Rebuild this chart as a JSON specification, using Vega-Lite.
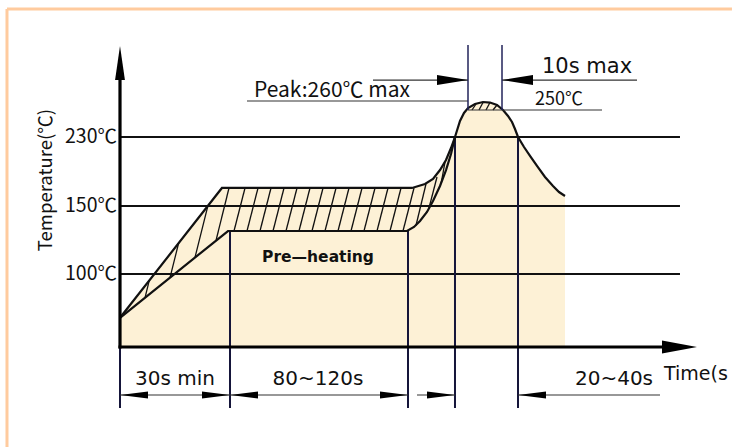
{
  "$schema": "https://vega.github.io/schema/vega-lite/v6.json",
  "width": 732,
  "height": 447,
  "padding": 0,
  "autosize": "none",
  "background": "white",
  "config": {"view": {"stroke": null}},
  "datasets": {
    "border": [
      {"t": -37.67, "T": 362.2, "t2": 312, "T2": 362.2},
      {"t": -37.67, "T": 362.2, "t2": -37.67, "T2": -137}
    ],
    "env": [
      {"t": 0, "T": 40}, {"t": 27.8, "T": 170.9}, {"t": 132.25, "T": 170.9},
      {"t": 139.55, "T": 175.5}, {"t": 144.04, "T": 181.3}, {"t": 147.98, "T": 191.7},
      {"t": 151.35, "T": 203.3}, {"t": 154.16, "T": 217.2}, {"t": 156.4, "T": 230},
      {"t": 159.21, "T": 241.9}, {"t": 161.46, "T": 247.8}, {"t": 163.71, "T": 252.2},
      {"t": 167.64, "T": 256.7}, {"t": 172.13, "T": 258.9}, {"t": 176.07, "T": 258.3},
      {"t": 180.0, "T": 255.6}, {"t": 183.37, "T": 250}, {"t": 186.18, "T": 245.6},
      {"t": 188.43, "T": 241.1}, {"t": 190.11, "T": 235.9}, {"t": 191.8, "T": 230},
      {"t": 195.17, "T": 218.4}, {"t": 198.54, "T": 208.0}, {"t": 202.47, "T": 196.4},
      {"t": 206.97, "T": 183.6}, {"t": 211.46, "T": 173.2}, {"t": 214.83, "T": 166.2},
      {"t": 218.2, "T": 161.6}
    ],
    "low": [
      {"t": 0, "T": 40}, {"t": 29.45, "T": 131.6}, {"t": 129.44, "T": 131.6},
      {"t": 133.37, "T": 134.6}, {"t": 136.74, "T": 139.0}, {"t": 140.67, "T": 145.6},
      {"t": 144.04, "T": 155.8}, {"t": 147.98, "T": 173.2}, {"t": 151.35, "T": 191.7},
      {"t": 154.16, "T": 210.3}, {"t": 156.4, "T": 230}
    ],
    "grid": [
      {"t": 0, "T": 100, "t2": 282.8, "T2": 100},
      {"t": 0, "T": 150, "t2": 282.8, "T2": 150},
      {"t": 0, "T": 230, "t2": 282.8, "T2": 230}
    ],
    "vert": [
      {"t": 0, "T": 0, "t2": 0, "T2": -83.6},
      {"t": 30, "T": 131.6, "t2": 30, "T2": -83.6},
      {"t": 130, "T": 131.6, "t2": 130, "T2": -83.6},
      {"t": 156.4, "T": 230, "t2": 156.4, "T2": -83.6},
      {"t": 191.8, "T": 230, "t2": 191.8, "T2": -83.6}
    ],
    "hatch": [
      {"t": 6.82, "T": 67.26, "t2": 7.96, "T2": 90.82},
      {"t": 13.64, "T": 94.93, "t2": 15.98, "T2": 122.65},
      {"t": 20.45, "T": 112.13, "t2": 23.97, "T2": 150.23},
      {"t": 26.18, "T": 124.56, "t2": 29.73, "T2": 170.87},
      {"t": 32.25, "T": 131.6, "t2": 38.43, "T2": 170.9},
      {"t": 39.55, "T": 131.6, "t2": 45.73, "T2": 170.9},
      {"t": 46.85, "T": 131.6, "t2": 53.03, "T2": 170.9},
      {"t": 54.16, "T": 131.6, "t2": 60.34, "T2": 170.9},
      {"t": 61.46, "T": 131.6, "t2": 67.64, "T2": 170.9},
      {"t": 68.76, "T": 131.6, "t2": 74.94, "T2": 170.9},
      {"t": 76.07, "T": 131.6, "t2": 82.25, "T2": 170.9},
      {"t": 83.37, "T": 131.6, "t2": 89.55, "T2": 170.9},
      {"t": 90.67, "T": 131.6, "t2": 96.85, "T2": 170.9},
      {"t": 97.98, "T": 131.6, "t2": 104.16, "T2": 170.9},
      {"t": 105.28, "T": 131.6, "t2": 111.46, "T2": 170.9},
      {"t": 112.58, "T": 131.6, "t2": 118.76, "T2": 170.9},
      {"t": 119.89, "T": 131.6, "t2": 126.07, "T2": 170.9},
      {"t": 127.19, "T": 131.6, "t2": 133.37, "T2": 170.9},
      {"t": 134.49, "T": 135.66, "t2": 140.11, "T2": 175.5},
      {"t": 141.8, "T": 148.53, "t2": 146.29, "T2": 183.62},
      {"t": 148.54, "T": 175.5, "t2": 150.79, "T2": 201.0},
      {"t": 165.96, "T": 250, "t2": 168.2, "T2": 256.67},
      {"t": 169.89, "T": 250, "t2": 172.13, "T2": 258.33},
      {"t": 173.82, "T": 250, "t2": 176.07, "T2": 258.33},
      {"t": 177.75, "T": 250, "t2": 180.0, "T2": 255.56}
    ],
    "thin": [
      {"t": 39.55, "T": 260, "t2": 163.71, "T2": 260},
      {"t": 163.71, "T": 250, "t2": 239.0, "T2": 250},
      {"t": 110.34, "T": 283.3, "t2": 163.71, "T2": 283.3},
      {"t": 182.81, "T": 283.3, "t2": 258.65, "T2": 283.3},
      {"t": 0, "T": -65.75, "t2": 30, "T2": -65.75},
      {"t": 30, "T": -65.75, "t2": 130, "T2": -65.75},
      {"t": 135.06, "T": -65.75, "t2": 156.4, "T2": -65.75},
      {"t": 191.8, "T": -65.75, "t2": 271.57, "T2": -65.75}
    ],
    "topv": [
      {"t": 163.71, "T": 322.2, "t2": 163.71, "T2": 250},
      {"t": 182.81, "T": 322.2, "t2": 182.81, "T2": 250}
    ],
    "axes": [
      {"t": 0, "T": -2, "t2": 0, "T2": 294.4},
      {"t": -0.5, "T": 0, "t2": 277.19, "T2": 0}
    ],
    "arrS": [
      {"t": 0, "T": -65.75, "dir": "left"},
      {"t": 30, "T": -65.75, "dir": "right"},
      {"t": 30, "T": -65.75, "dir": "left"},
      {"t": 130, "T": -65.75, "dir": "right"},
      {"t": 156.4, "T": -65.75, "dir": "right"},
      {"t": 191.8, "T": -65.75, "dir": "left"}
    ],
    "arrM": [
      {"t": 163.71, "T": 283.3, "dir": "right"},
      {"t": 182.81, "T": 283.3, "dir": "left"}
    ],
    "arrY": [{"t": 0, "T": 321.1}],
    "arrX": [{"t": 292.36, "T": 0}],
    "ylab": [
      {"t": -1.0, "T": 230, "label": "230℃"},
      {"t": -1.0, "T": 150, "label": "150℃"},
      {"t": -1.0, "T": 100, "label": "100℃"}
    ],
    "ytitle": [{"t": -24.67, "T": 180.0, "label": "Temperature(℃)"}],
    "peak": [{"t": 43.48, "T": 264.4, "label": "Peak:260℃ max"}],
    "ten": [{"t": 205.28, "T": 291.1, "label": "10s max"}],
    "t250": [{"t": 201.35, "T": 255.6, "label": "250℃"}],
    "pre": [{"t": 79.44, "T": 112.5, "label": "Pre—heating"}],
    "dims": [
      {"t": 15, "T": -52.05, "label": "30s min"},
      {"t": 79.44, "T": -52.05, "label": "80~120s"},
      {"t": 245.73, "T": -52.05, "label": "20~40s"}
    ],
    "timelab": [{"t": 273.82, "T": -45.2, "label": "Time(s"}]
  },
  "encoding": {
    "x": {"field": "t", "type": "quantitative", "axis": null,
      "scale": {"domain": [-40, 0, 30, 330], "range": [0, 120, 230, 764], "nice": false, "zero": false}},
    "y": {"field": "T", "type": "quantitative", "axis": null,
      "scale": {"domain": [-200, 0, 100, 150, 230, 250, 400], "range": [493, 347, 274, 206, 137, 110, -25], "nice": false, "zero": false}}
  },
  "layer": [
    {"data": {"name": "border"}, "mark": {"type": "rule", "stroke": "#FFCB9E", "strokeWidth": 3},
      "encoding": {"x2": {"field": "t2"}, "y2": {"field": "T2"}}},
    {"data": {"name": "env"}, "mark": {"type": "area", "color": "#FDF1D6", "opacity": 1},
      "encoding": {"y2": {"datum": 0}}},
    {"data": {"name": "grid"}, "mark": {"type": "rule", "color": "#111111", "strokeWidth": 2},
      "encoding": {"x2": {"field": "t2"}, "y2": {"field": "T2"}}},
    {"data": {"name": "vert"}, "mark": {"type": "rule", "color": "#15153a", "strokeWidth": 2},
      "encoding": {"x2": {"field": "t2"}, "y2": {"field": "T2"}}},
    {"data": {"name": "hatch"}, "mark": {"type": "rule", "color": "#111111", "strokeWidth": 1.3},
      "encoding": {"x2": {"field": "t2"}, "y2": {"field": "T2"}}},
    {"data": {"name": "low"}, "mark": {"type": "line", "color": "#111111", "strokeWidth": 2.2}, "encoding": {}},
    {"data": {"name": "env"}, "mark": {"type": "line", "color": "#111111", "strokeWidth": 2.2}, "encoding": {}},
    {"data": {"name": "thin"}, "mark": {"type": "rule", "color": "#333333", "strokeWidth": 1.2},
      "encoding": {"x2": {"field": "t2"}, "y2": {"field": "T2"}}},
    {"data": {"name": "topv"}, "mark": {"type": "rule", "color": "#22235a", "strokeWidth": 1.5},
      "encoding": {"x2": {"field": "t2"}, "y2": {"field": "T2"}}},
    {"data": {"name": "axes"}, "mark": {"type": "rule", "color": "#000000", "strokeWidth": 3.2},
      "encoding": {"x2": {"field": "t2"}, "y2": {"field": "T2"}}},
    {"data": {"name": "arrS"}, "transform": [{"filter": "datum.dir === 'right'"}],
      "mark": {"type": "point", "shape": "M0,0L-2,-0.25L-2,0.25Z", "filled": true, "size": 784, "color": "#000000", "opacity": 1, "angle": 0}},
    {"data": {"name": "arrS"}, "transform": [{"filter": "datum.dir === 'left'"}],
      "mark": {"type": "point", "shape": "M0,0L-2,-0.25L-2,0.25Z", "filled": true, "size": 784, "color": "#000000", "opacity": 1, "angle": 180}},
    {"data": {"name": "arrM"}, "transform": [{"filter": "datum.dir === 'right'"}],
      "mark": {"type": "point", "shape": "M0,0L-2,-0.32L-2,0.32Z", "filled": true, "size": 961, "color": "#000000", "opacity": 1, "angle": 0}},
    {"data": {"name": "arrM"}, "transform": [{"filter": "datum.dir === 'left'"}],
      "mark": {"type": "point", "shape": "M0,0L-2,-0.32L-2,0.32Z", "filled": true, "size": 961, "color": "#000000", "opacity": 1, "angle": 180}},
    {"data": {"name": "arrY"},
      "mark": {"type": "point", "shape": "M0,0L-2,-0.29L-2,0.29Z", "filled": true, "size": 1156, "color": "#000000", "opacity": 1, "angle": 270}},
    {"data": {"name": "arrX"},
      "mark": {"type": "point", "shape": "M0,0L-2,-0.37L-2,0.37Z", "filled": true, "size": 1225, "color": "#000000", "opacity": 1, "angle": 0}},
    {"data": {"name": "ylab"}, "mark": {"type": "text", "font": "Noto Sans CJK SC", "fontSize": 19.5, "align": "right", "baseline": "middle", "color": "#111111"},
      "encoding": {"text": {"field": "label"}}},
    {"data": {"name": "ytitle"}, "mark": {"type": "text", "font": "Noto Sans CJK SC", "fontSize": 18.5, "align": "center", "baseline": "middle", "angle": 270, "color": "#111111"},
      "encoding": {"text": {"field": "label"}}},
    {"data": {"name": "peak"}, "mark": {"type": "text", "font": "Noto Sans CJK SC", "fontSize": 21, "align": "left", "baseline": "alphabetic", "color": "#111111"},
      "encoding": {"text": {"field": "label"}}},
    {"data": {"name": "ten"}, "mark": {"type": "text", "font": "DejaVu Sans", "fontSize": 21, "align": "left", "baseline": "alphabetic", "color": "#111111"},
      "encoding": {"text": {"field": "label"}}},
    {"data": {"name": "t250"}, "mark": {"type": "text", "font": "Noto Sans CJK SC", "fontSize": 18, "align": "left", "baseline": "alphabetic", "color": "#111111"},
      "encoding": {"text": {"field": "label"}}},
    {"data": {"name": "pre"}, "mark": {"type": "text", "font": "DejaVu Sans", "fontSize": 15.5, "fontWeight": "bold", "align": "center", "baseline": "middle", "color": "#111111"},
      "encoding": {"text": {"field": "label"}}},
    {"data": {"name": "dims"}, "mark": {"type": "text", "font": "DejaVu Sans", "fontSize": 20, "align": "center", "baseline": "alphabetic", "color": "#111111"},
      "encoding": {"text": {"field": "label"}}},
    {"data": {"name": "timelab"}, "mark": {"type": "text", "font": "DejaVu Sans", "fontSize": 19, "align": "left", "baseline": "alphabetic", "color": "#111111"},
      "encoding": {"text": {"field": "label"}}}
  ]
}
